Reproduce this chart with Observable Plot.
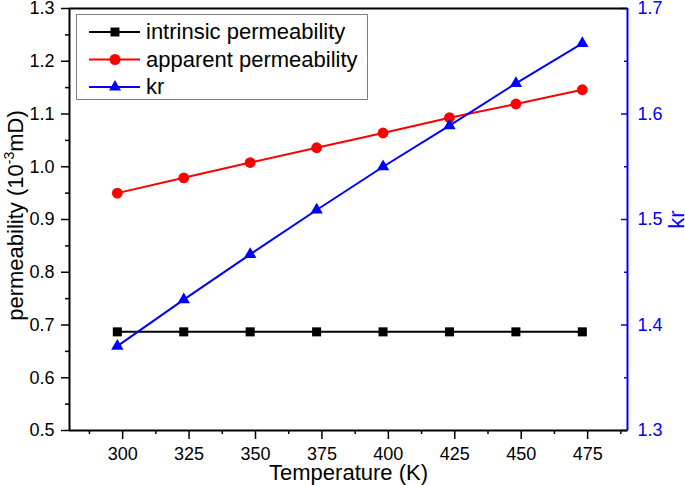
<!DOCTYPE html>
<html><head><meta charset="utf-8">
<script src="https://cdn.jsdelivr.net/npm/d3@7"></script>
<script src="https://cdn.jsdelivr.net/npm/@observablehq/plot@0.6"></script>
<style>body{margin:0;background:#fff;}</style>
</head><body><div id="chart"></div>
<script>
// ---- data ----
const temperature = [298, 323, 348, 373, 398, 423, 448, 473];
const intrinsicPerm = [0.687, 0.687, 0.687, 0.687, 0.687, 0.687, 0.687, 0.687];
const apparentPerm = [0.950, 0.979, 1.008, 1.036, 1.064, 1.093, 1.119, 1.146];
const krValues = [1.380, 1.424, 1.467, 1.509, 1.550, 1.589, 1.629, 1.667];

const seriesNames = ["intrinsic permeability", "apparent permeability", "kr"];
const xTicks = [300, 325, 350, 375, 400, 425, 450, 475];
const xMinorTicks = [287.5, 312.5, 337.5, 362.5, 387.5, 412.5, 437.5, 462.5, 487.5];
const yTicks = [0.5, 0.6, 0.7, 0.8, 0.9, 1.0, 1.1, 1.2, 1.3];
const yMinorTicks = [0.55, 0.65, 0.75, 0.85, 0.95, 1.05, 1.15, 1.25];
const krTicks = [1.3, 1.4, 1.5, 1.6, 1.7];
const krMinorTicks = [1.35, 1.45, 1.55, 1.65];
const xDomain = [280, 490];
const yDomain = [0.5, 1.3];
const krDomain = [1.3, 1.7];
const xLabel = "Temperature (K)";
const yLabelParts = ["permeability (10", "-3", "mD)"];
const krLabel = "kr";

// ---- build ----
const krToY = d3.scaleLinear(krDomain, yDomain);
const rows = temperature.map((t, i) => ({t, intrinsic: intrinsicPerm[i], apparent: apparentPerm[i], kr: krValues[i]}));
const font = "'Liberation Sans', Arial, Helvetica, sans-serif";
const yLabelText = yLabelParts.join("");

const chart = Plot.plot({
  width: 685, height: 485,
  marginLeft: 69, marginRight: 58, marginTop: 8, marginBottom: 55,
  style: {fontFamily: font, background: "#fff", color: "#000", overflow: "visible"},
  x: {domain: xDomain},
  y: {domain: yDomain},
  marks: [
    Plot.axisX(xTicks, {tickSize: 9, tickPadding: 8, fontSize: 18, label: null, strokeWidth: 1.5}),
    Plot.axisX(xMinorTicks, {tickSize: 4, text: null, label: null, strokeWidth: 1.5}),
    Plot.axisY(yTicks, {tickSize: 8, tickPadding: 7, fontSize: 18, tickFormat: d3.format(".1f"), label: null, strokeWidth: 1.5}),
    Plot.axisY(yMinorTicks, {tickSize: 4, text: null, label: null, strokeWidth: 1.5}),
    Plot.axisY(krTicks.map(d => krToY(d)), {anchor: "right", tickSize: -7, tickPadding: 17, fontSize: 18,
      tickFormat: d => krToY.invert(d).toFixed(1), label: null, color: "#0000ff", strokeWidth: 1.5}),
    Plot.axisY(krMinorTicks.map(d => krToY(d)), {anchor: "right", tickSize: -4, text: null, label: null, color: "#0000ff", strokeWidth: 1.5}),
    Plot.ruleY([yDomain[0]], {stroke: "#000", strokeWidth: 2}),
    Plot.ruleY([yDomain[1]], {stroke: "#000", strokeWidth: 2}),
    Plot.ruleX([xDomain[0]], {stroke: "#000", strokeWidth: 2}),
    Plot.ruleX([xDomain[1]], {stroke: "#0000ff", strokeWidth: 2}),
    Plot.line(rows, {x: "t", y: "intrinsic", stroke: "#000", strokeWidth: 2}),
    Plot.dot(rows, {x: "t", y: "intrinsic", symbol: "square", r: 5.1, fill: "#000", stroke: "none"}),
    Plot.line(rows, {x: "t", y: "apparent", stroke: "#ff0000", strokeWidth: 2}),
    Plot.dot(rows, {x: "t", y: "apparent", symbol: "circle", r: 5.4, fill: "#ff0000", stroke: "none"}),
    Plot.line(rows, {x: "t", y: d => krToY(d.kr), stroke: "#0000ff", strokeWidth: 2}),
    Plot.dot(rows, {x: "t", y: d => krToY(d.kr), symbol: "triangle", r: 4.6, fill: "#0000ff", stroke: "none"}),
    Plot.text([xLabel], {text: d => d, frameAnchor: "bottom", lineAnchor: "middle", textAnchor: "middle", dy: 42, fontSize: 22, fill: "#000"}),
    Plot.text([yLabelText], {text: d => d, frameAnchor: "left", lineAnchor: "middle", textAnchor: "middle", dx: -54, dy: -4, rotate: -90, fontSize: 22, fill: "#000"}),
    Plot.text([krLabel], {text: d => d, frameAnchor: "right", lineAnchor: "middle", textAnchor: "middle", dx: 49, rotate: -90, fontSize: 22, fill: "#0000ff"})
  ]
});
document.getElementById("chart").appendChild(chart);

// superscript in y label
const svg = d3.select(chart);
svg.selectAll("text").filter(function() { return this.textContent === yLabelText; }).each(function() {
  const t = d3.select(this);
  t.text(null);
  t.append("tspan").text(yLabelParts[0]);
  t.append("tspan").attr("font-size", 14).attr("dy", -9).text(yLabelParts[1]);
  t.append("tspan").attr("dy", 9).text(yLabelParts[2]);
});

// legend
const legendColors = ["#000", "#ff0000", "#0000ff"];
const legendSymbols = [d3.symbolSquare, d3.symbolCircle, d3.symbolTriangle];
const legendSizes = [80, 95, 62];
const leg = svg.append("g").attr("font-family", font).attr("font-size", 22).attr("text-anchor", "start");
leg.append("rect").attr("x", 76.5).attr("y", 14.5).attr("width", 291).attr("height", 85)
  .attr("fill", "#fff").attr("stroke", "#808080").attr("stroke-width", 1);
seriesNames.forEach((name, i) => {
  const cy = 32 + i * 27.5;
  leg.append("line").attr("x1", 89).attr("x2", 140).attr("y1", cy).attr("y2", cy)
    .attr("stroke", legendColors[i]).attr("stroke-width", 2);
  leg.append("path").attr("d", d3.symbol(legendSymbols[i], legendSizes[i])())
    .attr("transform", `translate(115,${cy})`).attr("fill", legendColors[i]);
  leg.append("text").attr("x", 146).attr("y", cy).attr("dy", "0.33em").attr("text-anchor", "start").attr("fill", "#000").text(name);
});
</script>
</body></html>
